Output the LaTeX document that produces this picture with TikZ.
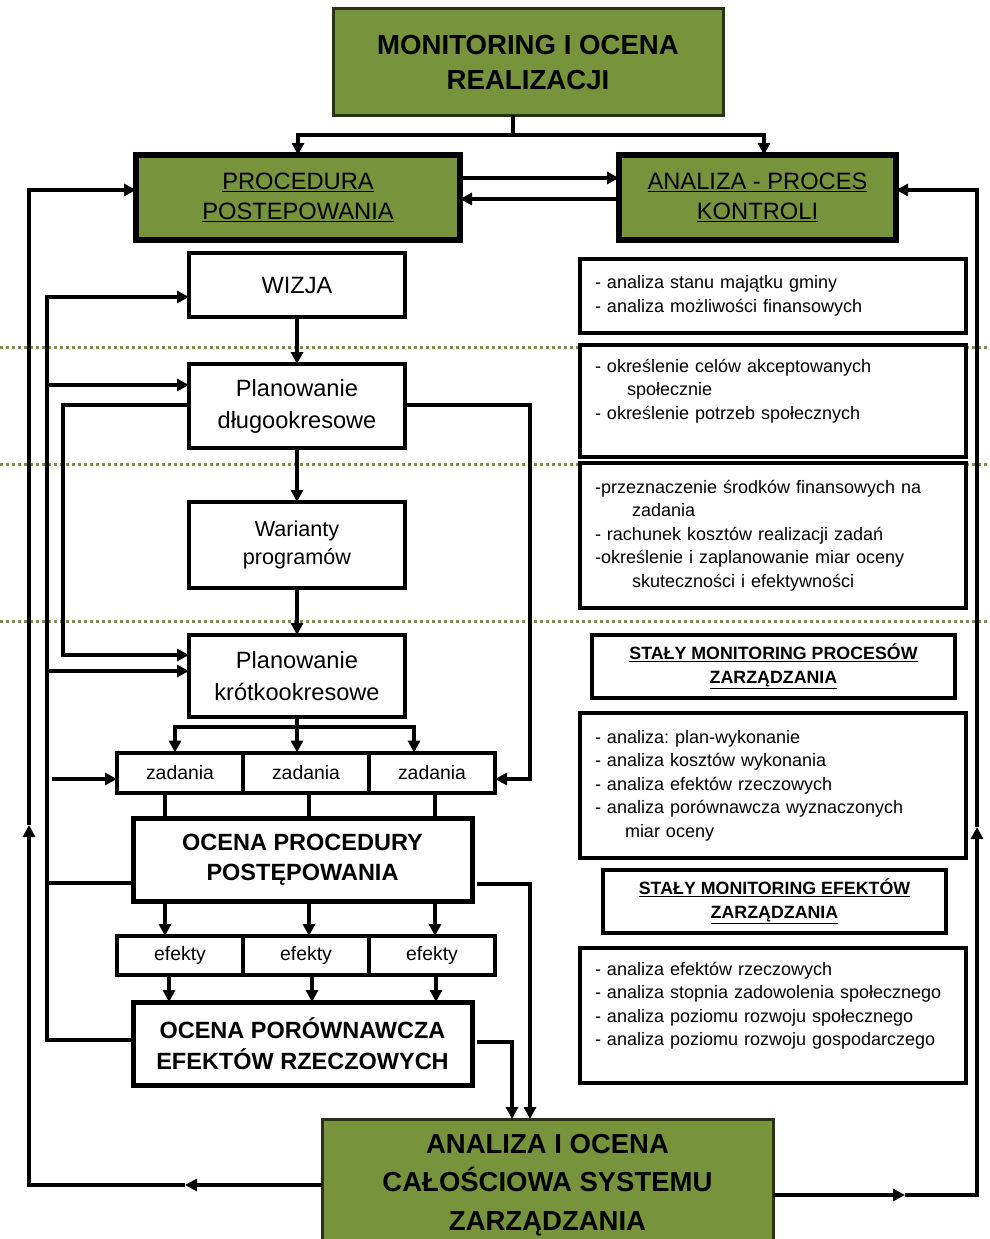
\documentclass[tikz,border=0pt]{standalone}
\usepackage{fontspec}
\setmainfont{Liberation Sans}
\frenchspacing
\usetikzlibrary{arrows.meta,positioning}
\definecolor{boxgreen} {RGB}{119,147,60}
\definecolor{edgegreen}{RGB}{40,50,20}
\definecolor{dotgreen} {RGB}{130,140,70}

\begin{document}
\begin{tikzpicture}[
  x=1pt, y=-1pt,
  mainbox/.style={rectangle, draw=edgegreen, fill=boxgreen, line width=3pt,
    outer sep=0pt, align=center,
    font=\fontsize{27.6}{35}\selectfont\bfseries},
  procbox/.style={rectangle, draw=black, fill=boxgreen, line width=6pt,
    outer sep=0pt, minimum height=85pt, align=center,
    font=\fontsize{23.7}{30}\selectfont},
  stagebox/.style={rectangle, draw=black, fill=white, line width=4pt,
    outer sep=0pt, minimum width=216pt, align=center,
    font=\fontsize{23.6}{32}\selectfont},
  cellbox/.style={rectangle, draw=black, fill=white, line width=4pt,
    outer sep=0pt, minimum width=126pt, minimum height=40pt,
    font=\fontsize{19.4}{23}\selectfont},
  evalbox/.style={rectangle, draw=black, fill=white, line width=5pt,
    outer sep=0pt, minimum width=339pt, minimum height=83pt, align=center,
    font=\fontsize{23.5}{30.5}\selectfont\bfseries},
  listbox/.style={rectangle, draw=black, fill=white, line width=4.5pt,
    outer sep=0pt, anchor=north west, text width=356pt, inner xsep=15pt,
    align=left, font=\fontsize{18}{23.5}\selectfont},
  headbox/.style={rectangle, draw=black, fill=white, line width=4.5pt,
    outer sep=0pt, minimum height=63pt, align=center,
    font=\fontsize{17.8}{24}\selectfont\bfseries},
  conn/.style={draw=black, line width=4pt},
  arr/.style={conn, -{Triangle[length=12pt,width=12pt]}},
  sep/.style={draw=dotgreen, line width=3pt, dash pattern=on 3pt off 3pt},
]
\useasboundingbox (0,0) rectangle (990,1239);

% dotted separators
\foreach \y in {347,464,621}
  \draw[sep] (0,\y) -- (990,\y);

% top level
\node[mainbox, minimum width=390pt, minimum height=106pt] (top) at (528,62)
  {MONITORING I OCENA\\REALIZACJI};
\node[procbox, minimum width=324pt] (proc) at (298,197.5)
  {\underline{PROCEDURA}\\\underline{POSTEPOWANIA}};
\node[procbox, minimum width=277pt] (anal) at (757.5,197.5)
  {\underline{ANALIZA - PROCES}\\\underline{KONTROLI}};

% procedure column (left)
\node[stagebox, minimum height=64pt] (wizja) at (297,285) {WIZJA};
\node[stagebox, minimum height=84pt, below=47pt of wizja] (dlugo)
  {Planowanie\\długookresowe};
\node[stagebox, minimum height=86pt, below=54pt of dlugo,
      font=\fontsize{21.6}{28}\selectfont] (warianty)
  {Warianty\\programów};
\node[stagebox, minimum height=82pt, below=47pt of warianty] (krotko)
  {Planowanie\\krótkookresowe};

\node[cellbox] (z1) at (180,772.5) {zadania};
\node[cellbox, right=0pt of z1] (z2) {zadania};
\node[cellbox, right=0pt of z2] (z3) {zadania};

\node[evalbox] (ocp) at (302.5,859.5) {OCENA PROCEDURY\\POSTĘPOWANIA};

\node[cellbox, minimum height=39pt] (e1) at (180,955.5) {efekty};
\node[cellbox, minimum height=39pt, right=0pt of e1] (e2) {efekty};
\node[cellbox, minimum height=39pt, right=0pt of e2] (e3) {efekty};

\node[evalbox] (ocr) at (302.5,1043.5) {OCENA PORÓWNAWCZA\\EFEKTÓW RZECZOWYCH};

\node[mainbox, minimum width=451pt, minimum height=132pt,
      font=\fontsize{27.5}{38.5}\selectfont\bfseries] (total) at (547.5,1185)
  {ANALIZA I OCENA\\CAŁOŚCIOWA SYSTEMU\\ZARZĄDZANIA};

% control column (right)
\node[listbox, minimum height=74pt] (stan) at (580,259)
  {- analiza stanu majątku gminy\\- analiza możliwości finansowych};
\node[listbox, minimum height=112pt] (cele) at (580,345)
  {- określenie celów akceptowanych\\\hspace*{32pt}społecznie\\
   - określenie potrzeb społecznych\\\mbox{}};
\node[listbox, minimum height=145pt] (srodki) at (580,463)
  {-przeznaczenie środków finansowych na\\\hspace*{37pt}zadania\\
   - rachunek kosztów realizacji zadań\\
   -określenie i zaplanowanie miar oceny\\\hspace*{37pt}skuteczności i efektywności};
\node[headbox, minimum width=363pt] (monproc) at (773.5,666.5)
  {\underline{STAŁY MONITORING PROCESÓW}\\\underline{ZARZĄDZANIA}};
\node[listbox, minimum height=145pt] (procesy) at (580,713)
  {- analiza: plan-wykonanie\\- analiza kosztów wykonania\\
   - analiza efektów rzeczowych\\- analiza porównawcza wyznaczonych\\
   \hspace*{30pt}miar oceny};
\node[headbox, minimum width=343pt] (monef) at (774.5,901.5)
  {\underline{STAŁY MONITORING EFEKTÓW}\\\underline{ZARZĄDZANIA}};
\node[listbox, minimum height=135pt] (efekty) at (580,948)
  {- analiza efektów rzeczowych\\- analiza stopnia zadowolenia społecznego\\
   - analiza poziomu rozwoju społecznego\\- analiza poziomu rozwoju gospodarczego\\\mbox{}};

% top split
\coordinate (split) at (513,135);
\draw[conn] (top.south -| split) -- (split);
\draw[arr] (split) -| (proc.north);
\draw[arr] (split) -| ([xshift=6.5pt]anal.north);
\draw[arr] ([yshift=19.5pt]proc.east) -- ([yshift=19.5pt]anal.west);
\draw[arr] ([yshift=-1.5pt]anal.west) -- ([yshift=-1.5pt]proc.east);

% main chain
\draw[arr] (wizja) -- (dlugo);
\draw[arr] (dlugo.south) -- (dlugo.south |- warianty.north);
\draw[arr] (warianty) -- (krotko);
\coordinate (fork) at (297,727);
\draw[conn] (krotko.south) -- (fork);
\draw[arr] (fork) -| ([xshift=-5pt]z1.north);
\draw[arr] (fork) -- (fork |- z2.north);
\draw[arr] (fork) -| ([xshift=-18pt]z3.north);
\foreach \x in {165,309,435} {
  \draw[conn] (z1.south -| \x,0) -- (ocp.north -| \x,0);
  \draw[arr] (ocp.south -| \x,0) -- (e1.north -| \x,0);
}
\foreach \x in {169,312,436}
  \draw[arr] (e1.south -| \x,0) -- (ocr.north -| \x,0);

% inner feedback (left)
\draw[arr] (ocr.west |- 0,1040) -| (47,297) -- (wizja.west |- 0,297);
\draw[conn] (ocp.west |- 0,883) -- (47,883);
\draw[arr] (47,385) -- (dlugo.west |- 0,385);
\draw[arr] (47,671) -- (krotko.west |- 0,671);
\draw[arr] (52,779) -- (z1.west |- 0,779);
\draw[arr] (dlugo.west |- 0,405) -| (63,655) -- (krotko.west |- 0,655);

% links on the right of the column
\draw[arr] (dlugo.east |- 0,405) -| (530,779) -- (z3.east |- 0,779);
\draw[arr, shorten <=5pt] (ocp.east |- 0,884) -| (total.north -| 530,0);
\draw[arr, shorten <=5pt] (ocr.east |- 0,1042) -| (total.north -| 512,0);

% outer loops
\coordinate (lmid) at (185,1185);
\coordinate (lup)  at (29,825);
\draw[arr] (total.west |- lmid) -- (lmid);
\draw[arr] (lmid) -| (lup);
\draw[arr] (lup) |- ([yshift=7.5pt]proc.west);
\coordinate (rmid) at (905,1195);
\coordinate (rup)  at (977,827);
\draw[arr] (total.east |- rmid) -- (rmid);
\draw[arr] (rmid) -| (rup);
\draw[arr] (rup) |- ([yshift=7.5pt]anal.east);

\end{tikzpicture}
\end{document}
